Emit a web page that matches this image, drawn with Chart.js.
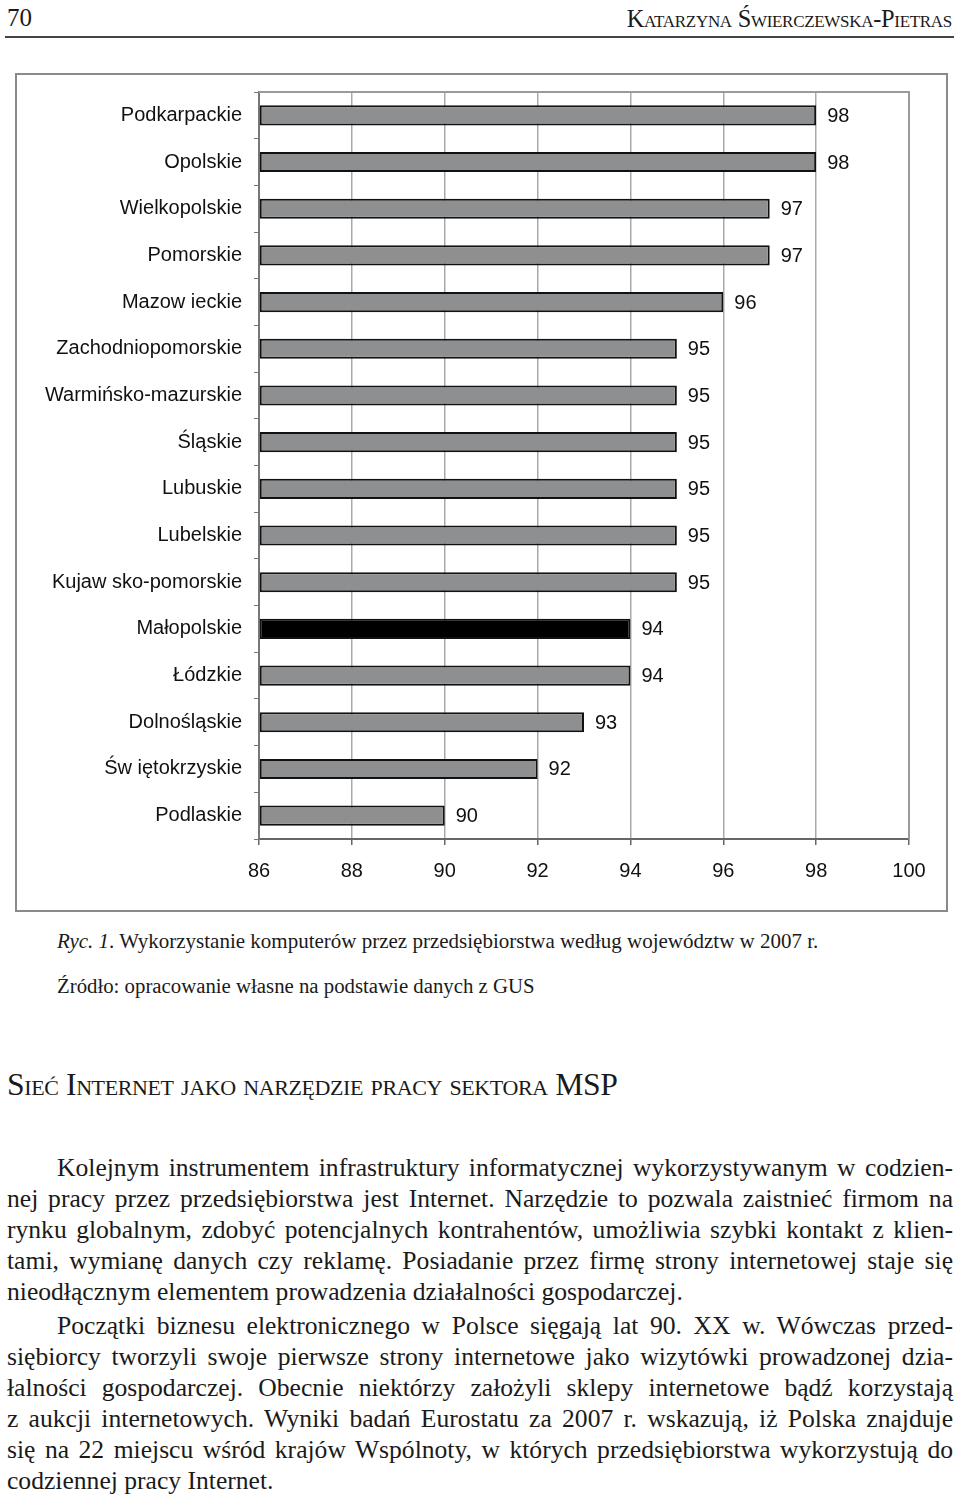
<!DOCTYPE html>
<html lang="pl">
<head>
<meta charset="utf-8">
<script src="https://cdn.jsdelivr.net/npm/chart.js@4.4.1/dist/chart.umd.min.js"></script>
<style>
    body { margin: 0; width: 960px; height: 1494px; background: #fff; position: relative; overflow: hidden;
           font-family: 'Liberation Serif', 'Times New Roman', serif; color: #1a1a1a; }
    .abs { position: absolute; white-space: nowrap; }
    #pageNo { left: 7px; top: 2px; font-size: 25px; line-height: 32px; }
    #author { right: 8px; top: 4px; font-size: 24.4px; line-height: 30px; font-variant: small-caps; letter-spacing: -0.3px; }
    #rule { position: absolute; left: 5px; top: 36px; width: 949px; height: 2px; background: #444; }
    #chartBox { position: absolute; left: 15px; top: 73px; width: 929px; height: 835px; border: 2px solid #8a8a8a; }
    #chartBox canvas { display: block; }
    #caption { left: 57px; top: 927px; font-size: 21px; line-height: 28px; }
    #source { left: 57px; top: 973px; font-size: 20.8px; line-height: 26px; }
    #section { left: 7px; top: 1066px; font-size: 31.7px; line-height: 38px; font-variant: small-caps; letter-spacing: -0.4px; }
    .text { position: absolute; left: 7px; width: 946px; font-size: 25.6px; line-height: 31px; }
    .text div { text-align: justify; text-align-last: justify; white-space: nowrap; }
    .text div.last { text-align-last: left; }
    .text div.ind { padding-left: 50px; }
</style>
</head>
<body>
<div id="pageNo" class="abs">70</div>
<div id="author" class="abs">Katarzyna Świerczewska-Pietras</div>
<div id="rule"></div>

<div id="chartBox"><canvas id="chart" width="929" height="835"></canvas></div>

<div id="caption" class="abs"><i>Ryc. 1</i>. Wykorzystanie komputerów przez przedsiębiorstwa według województw w 2007 r.</div>
<div id="source" class="abs">Źródło: opracowanie własne na podstawie danych z GUS</div>
<div id="section" class="abs">Sieć Internet jako narzędzie pracy sektora MSP</div>

<div class="text" style="top:1152px">
    <div class="ind">Kolejnym instrumentem infrastruktury informatycznej wykorzystywanym w codzien-</div>
    <div>nej pracy przez przedsiębiorstwa jest Internet. Narzędzie to pozwala zaistnieć firmom na</div>
    <div>rynku globalnym, zdobyć potencjalnych kontrahentów, umożliwia szybki kontakt z klien-</div>
    <div>tami, wymianę danych czy reklamę. Posiadanie przez firmę strony internetowej staje się</div>
    <div class="last">nieodłącznym elementem prowadzenia działalności gospodarczej.</div>
</div>
<div class="text" style="top:1310px">
    <div class="ind">Początki biznesu elektronicznego w Polsce sięgają lat 90. XX w. Wówczas przed-</div>
    <div>siębiorcy tworzyli swoje pierwsze strony internetowe jako wizytówki prowadzonej dzia-</div>
    <div>łalności gospodarczej. Obecnie niektórzy założyli sklepy internetowe bądź korzystają</div>
    <div>z aukcji internetowych. Wyniki badań Eurostatu za 2007 r. wskazują, iż Polska znajduje</div>
    <div>się na 22 miejscu wśród krajów Wspólnoty, w których przedsiębiorstwa wykorzystują do</div>
    <div class="last">codziennej pracy Internet.</div>
</div>

<script>
// województwa, top to bottom as in the figure
const regions = [
    'Podkarpackie', 'Opolskie', 'Wielkopolskie', 'Pomorskie', 'Mazow ieckie',
    'Zachodniopomorskie', 'Warmińsko-mazurskie', 'Śląskie', 'Lubuskie', 'Lubelskie',
    'Kujaw sko-pomorskie', 'Małopolskie', 'Łódzkie', 'Dolnośląskie', 'Św iętokrzyskie', 'Podlaskie'
];
const usage = [98, 98, 97, 97, 96, 95, 95, 95, 95, 95, 95, 94, 94, 93, 92, 90];
const highlighted = 'Małopolskie';
const axisMin = 86;
const axisMax = 100;
const axisStep = 2;

const barGrey = '#8e8f91';
const labelFont = { family: "'Liberation Sans', Arial, sans-serif", size: 20 };

// value labels to the right of each bar
const valueLabels = {
    id: 'valueLabels',
    afterDatasetsDraw(chart) {
        const ctx = chart.ctx;
        const meta = chart.getDatasetMeta(0);
        ctx.save();
        ctx.font = `${labelFont.size}px ${labelFont.family}`;
        ctx.fillStyle = '#111';
        ctx.textAlign = 'left';
        ctx.textBaseline = 'middle';
        meta.data.forEach((bar, i) => {
            ctx.fillText(String(usage[i]), bar.x + 11, bar.y + 1);
        });
        ctx.restore();
    }
};

// grey frame on top and right of the plot area
const plotFrame = {
    id: 'plotFrame',
    afterDraw(chart) {
        const { ctx, chartArea } = chart;
        ctx.save();
        ctx.strokeStyle = '#9a9a9a';
        ctx.lineWidth = 2;
        ctx.beginPath();
        ctx.moveTo(chartArea.left, chartArea.top);
        ctx.lineTo(chartArea.right, chartArea.top);
        ctx.lineTo(chartArea.right, chartArea.bottom);
        ctx.stroke();
        ctx.restore();
    }
};

new Chart(document.getElementById('chart'), {
    type: 'bar',
    data: {
        labels: regions,
        datasets: [{
            data: usage,
            base: axisMin,
            backgroundColor: regions.map(r => r === highlighted ? '#000' : barGrey),
            borderColor: '#111',
            borderWidth: 2,
            borderSkipped: false,
            barPercentage: 0.43,
            categoryPercentage: 1
        }]
    },
    options: {
        indexAxis: 'y',
        responsive: false,
        animation: false,
        devicePixelRatio: 1,
        layout: { padding: { top: 17, right: 37, left: 0, bottom: 0 } },
        plugins: { legend: { display: false }, tooltip: { enabled: false } },
        scales: {
            x: {
                min: axisMin,
                max: axisMax,
                afterFit(scale) { scale.height = 71; },
                ticks: { stepSize: axisStep, color: '#111', font: labelFont, padding: 14 },
                grid: { color: '#a9a9a9', lineWidth: 1.5, tickColor: '#666', tickLength: 6 },
                border: { color: '#666', width: 2 }
            },
            y: {
                afterFit(scale) {
                    scale.width = 242;
                    scale.paddingTop = 0;
                    scale.paddingBottom = 0;
                },
                ticks: { color: '#111', font: labelFont, padding: 12 },
                grid: { offset: true, drawOnChartArea: false, tickLength: 5, color: '#777' },
                border: { color: '#777', width: 2 }
            }
        }
    },
    plugins: [valueLabels, plotFrame]
});
</script>
</body>
</html>
